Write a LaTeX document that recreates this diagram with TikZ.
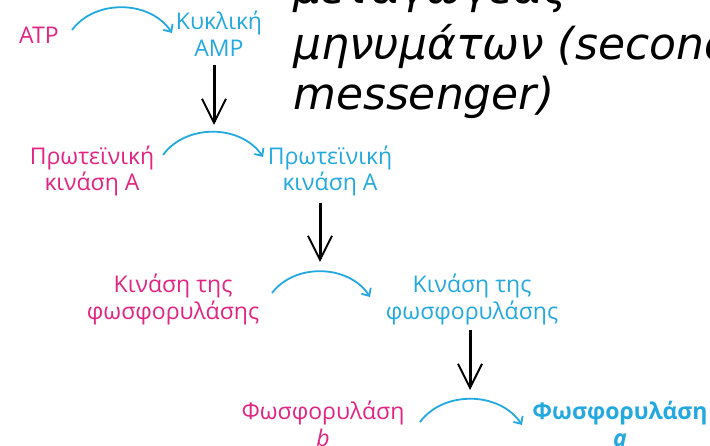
\documentclass[tikz,border=0pt]{standalone}
\usepackage{fontspec}
\setmainfont{Open Sans}
\newfontfamily\handfont{DejaVu Sans}
\usetikzlibrary{arrows.meta,calc}
\definecolor{kinmag}{RGB}{226,36,130}
\definecolor{kincyan}{RGB}{36,168,224}

\begin{document}
\begin{tikzpicture}[x=1pt,y=1pt,
  lbl/.style={align=center,font=\fontsize{23}{27}\selectfont,inner sep=2pt},
  inactive/.style={lbl,text=kinmag},
  active/.style={lbl,text=kincyan},
  conv/.style={draw=kincyan,line width=1.8pt,
    -{Straight Barb[length=6pt,width=11pt]},bend left=55},
  cascade/.style={draw=black,line width=3pt,
    -{Straight Barb[length=24pt,width=24pt,line width=2pt]}},
  hand/.style={font=\handfont\itshape\fontsize{44}{50}\selectfont,
    anchor=base west,inner sep=0pt}]
\useasboundingbox (0,0) rectangle (710,446);
\clip (0,0) rectangle (710,446);

% second messenger caption
\node[hand] (sm1) at (293,442) {μεταγωγέας};
\node[hand] (sm2) at (293,386) {μηνυμάτων (second};
\node[hand] (sm3) at (293,336) {messenger)};

% inactive (left) and active (right) forms
\node[inactive] (atp)  at (39,411)  {ATP};
\node[active]   (camp) at (219,412) {Κυκλική\\AMP};
\node[inactive] (pka1) at (92,275)  {Πρωτεϊνική\\κινάση A};
\node[active]   (pka2) at (330,275) {Πρωτεϊνική\\κινάση A};
\node[inactive] (phk1) at (173,147) {Κινάση της\\φωσφορυλάσης};
\node[active]   (phk2) at (472,147) {Κινάση της\\φωσφορυλάσης};
\node[inactive] (phb)  at (323,22)  {Φωσφορυλάση\\\textit{b}};
\node[active,font=\bfseries\fontsize{23}{27}\selectfont] (pha) at (620,22)
  {Φωσφορυλάση\\\textit{a}};

% conversions
\draw[conv] ($(atp.center)+(33,5)$) to ($(camp.center)+(-47,1)$);
\draw[conv] ($(pka1.center)+(71,16)$) to ($(pka2.center)+(-67,14)$);
\draw[conv] ($(phk1.center)+(99,6)$) to ($(phk2.center)+(-102,2)$);
\draw[conv] ($(phb.center)+(97,2)$) to ($(pha.center)+(-98,-1)$);

% cascade steps
\coordinate (t1) at (214,321);
\coordinate (t2) at (320,184);
\coordinate (t3) at (470,56);
\draw[cascade] ($(camp.center -| t1)+(0,-31)$) -- (t1);
\draw[cascade] ($(pka2.center -| t2)+(0,-32)$) -- (t2);
\draw[cascade] ($(phk2.center -| t3)+(0,-31)$) -- (t3);
\end{tikzpicture}
\end{document}
